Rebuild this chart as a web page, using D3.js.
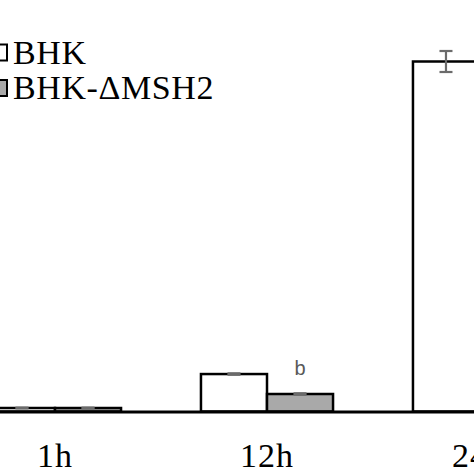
<!DOCTYPE html>
<html>
<head>
<meta charset="utf-8">
<script src="https://cdn.jsdelivr.net/npm/d3@7"></script>
<style>
  body { margin: 0; background: #fff; }
  svg { display: block; }
</style>
</head>
<body>
<div class="chart"></div>
<script>
// values (arbitrary units, 24h BHK = 100)
const groups = ["1h", "12h", "24h"];
const series = ["BHK", "BHK-\u0394MSH2"];
const bhkValues = [1.0, 10.7, 100];
const bhkErrors = [0.1, 0.2, 3.0];
const msh2Values = [1.0, 5.0, null];   // 24h bar lies outside the crop
const msh2Errors = [0.1, 0.2, null];
const letters = [null, "b", null];
const fills = ["#ffffff", "#a9a9a9"];

const width = 474;
const height = 474;
const serif = "'Liberation Serif', 'Times New Roman', serif";

let svg = d3.select("div.chart")
    .append("svg")
    .attr("width", width)
    .attr("height", height);

// band scale runs past the window, the picture is a crop
let x = d3.scaleBand()
    .domain(groups)
    .range([-51, 585])
    .paddingInner(0.377)
    .paddingOuter(0.1885);

let xs = d3.scaleBand()
    .domain(series)
    .range([0, x.bandwidth()]);

let y = d3.scaleLinear()
    .domain([0, 100])
    .range([411.5, 61.5]);

let rows = [];
groups.forEach((g, i) => {
    rows.push({ group: g, s: series[0], v: bhkValues[i], e: bhkErrors[i], fill: fills[0] });
    if (msh2Values[i] !== null)
        rows.push({ group: g, s: series[1], v: msh2Values[i], e: msh2Errors[i], fill: fills[1], letter: letters[i] });
});

svg.append("g")
    .selectAll("rect")
    .data(rows)
    .enter()
    .append("rect")
    .attr("x", d => x(d.group) + xs(d.s))
    .attr("y", d => y(d.v))
    .attr("width", xs.bandwidth())
    .attr("height", d => y(0) - y(d.v))
    .attr("fill", d => d.fill)
    .attr("stroke", "#000")
    .attr("stroke-width", 2.5);

// error bars
let errs = svg.append("g")
    .attr("stroke", "#6b6b6b")
    .attr("stroke-width", 2.2);

rows.forEach(d => {
    let cx = x(d.group) + xs(d.s) + xs.bandwidth() / 2;
    let hi = y(d.v + d.e), lo = y(d.v - d.e);
    errs.append("line").attr("x1", cx).attr("x2", cx).attr("y1", hi).attr("y2", lo);
    errs.append("line").attr("x1", cx - 6.5).attr("x2", cx + 6.5).attr("y1", hi).attr("y2", hi);
    errs.append("line").attr("x1", cx - 6.5).attr("x2", cx + 6.5).attr("y1", lo).attr("y2", lo);
});

// significance letters
svg.append("g")
    .selectAll("text")
    .data(rows.filter(d => d.letter))
    .enter()
    .append("text")
    .attr("x", d => x(d.group) + xs(d.s) + xs.bandwidth() / 2)
    .attr("y", d => y(d.v) - 19)
    .attr("text-anchor", "middle")
    .attr("font-family", "'Liberation Sans', Arial, sans-serif")
    .attr("font-size", 20)
    .attr("fill", "#595959")
    .text(d => d.letter);

// x axis
let xAxis = svg.append("g")
    .attr("transform", `translate(0,${y(0)})`)
    .call(d3.axisBottom(x).tickSize(0).tickPadding(31));

xAxis.select(".domain")
    .attr("stroke", "#000")
    .attr("stroke-width", 3);

xAxis.selectAll("text")
    .attr("font-family", serif)
    .attr("font-size", 34)
    .attr("letter-spacing", 1)
    .attr("fill", "#000");

// legend
let legend = svg.append("g")
    .selectAll("g")
    .data(series)
    .enter()
    .append("g")
    .attr("transform", (d, i) => `translate(0,${52.5 + i * 35.5})`);

legend.append("rect")
    .attr("x", -9)
    .attr("y", -8)
    .attr("width", 16)
    .attr("height", 16)
    .attr("fill", (d, i) => fills[i])
    .attr("stroke", "#000")
    .attr("stroke-width", 2);

legend.append("text")
    .attr("x", 13)
    .attr("y", 11)
    .attr("font-family", serif)
    .attr("font-size", 34)
    .attr("letter-spacing", 0.6)
    .attr("fill", "#000")
    .text(d => d);
</script>
</body>
</html>
